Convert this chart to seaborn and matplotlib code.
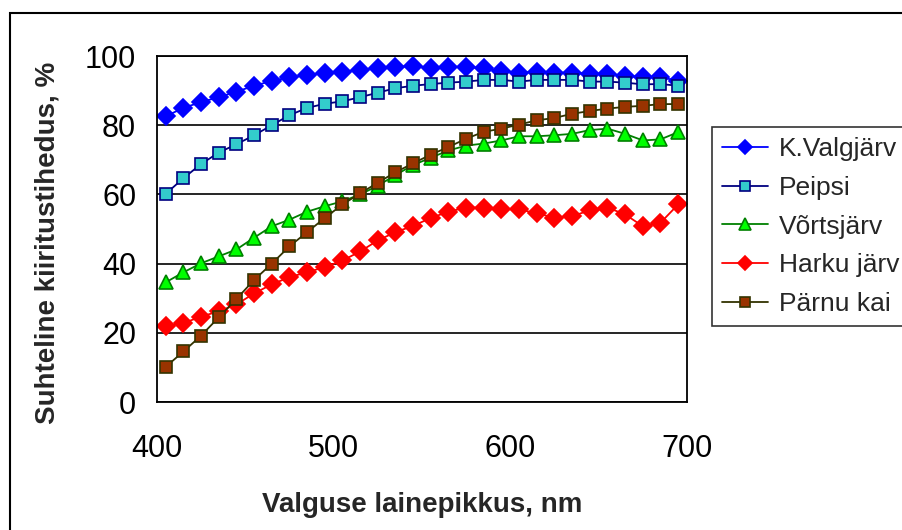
import pandas as pd
import matplotlib
matplotlib.use('Agg')
import matplotlib.pyplot as plt
import seaborn as sns
from matplotlib.patches import Rectangle

wavelength = list(range(405, 700, 10))

k_valgjarv = [82.6, 85.0, 86.7, 88.1, 89.7, 91.4, 92.8, 93.8, 94.5, 95.1,
              95.4, 96.0, 96.5, 96.8, 97.1, 96.6, 96.9, 96.9, 96.4, 95.6,
              95.2, 95.4, 95.2, 95.2, 94.9, 94.9, 94.2, 94.0, 93.8, 92.9]
peipsi = [60.2, 64.7, 68.8, 72.1, 74.5, 77.1, 80.0, 82.9, 85.0, 86.2,
          86.9, 88.1, 89.4, 90.7, 91.4, 91.9, 92.3, 92.6, 93.1, 93.1,
          92.6, 93.1, 93.1, 93.1, 92.6, 92.6, 92.3, 91.8, 91.9, 91.4]
vortsjarv = [34.6, 37.5, 40.1, 42.1, 44.1, 47.5, 50.8, 52.7, 55.0, 56.6,
             58.0, 60.0, 62.5, 65.6, 68.5, 70.6, 72.7, 74.1, 74.7, 75.6,
             76.8, 76.8, 77.1, 77.5, 78.6, 79.0, 77.5, 75.6, 75.9, 78.0]
harku = [21.9, 22.8, 24.7, 26.2, 28.2, 31.4, 34.0, 36.1, 37.5, 39.0,
         40.9, 43.5, 46.7, 49.1, 50.9, 53.2, 55.0, 56.2, 56.2, 55.7,
         55.7, 54.5, 53.3, 53.7, 55.4, 56.2, 54.2, 50.8, 51.8, 57.1]
parnu = [10.2, 14.6, 19.2, 24.5, 29.8, 35.3, 40.0, 45.0, 49.1, 53.2,
         57.1, 60.3, 63.4, 66.4, 69.0, 71.5, 73.7, 76.1, 78.1, 79.0,
         80.2, 81.4, 82.1, 83.3, 84.1, 84.8, 85.3, 85.6, 86.1, 86.1]

series_names = ['K.Valgjärv', 'Peipsi', 'Võrtsjärv', 'Harku järv', 'Pärnu kai']
series_values = [k_valgjarv, peipsi, vortsjarv, harku, parnu]

# line colour, marker, face colour, edge colour, marker size
styles = [
    ('#0000ff', 'D', '#0000ff', '#0000ff', 9),
    ('#000080', 's', '#33cccc', '#000080', 9),
    ('#008000', '^', '#00ff00', '#008000', 10),
    ('#ff0000', 'D', '#ff0000', '#ff0000', 9),
    ('#333300', 's', '#993300', '#333300', 9),
]

sns.set_style('white')
plt.rcParams['font.family'] = ['Liberation Sans', 'DejaVu Sans']

fig = plt.figure(figsize=(9.03, 5.30), dpi=100)
ax = fig.add_axes([157 / 903, 1 - 402 / 530, 530 / 903, 346 / 530])

for name, vals, (lc, mk, fc, ec, ms) in zip(series_names, series_values, styles):
    df = pd.DataFrame({'nm': wavelength, 'val': vals})
    sns.lineplot(data=df, x='nm', y='val', ax=ax, color=lc, linewidth=1.3,
                 marker=mk, markersize=ms, markerfacecolor=fc,
                 markeredgecolor=ec, markeredgewidth=1.2, label=name)

ax.set_xlim(400, 700)
ax.set_ylim(0, 100)
ax.set_xticks([400, 500, 600, 700])
ax.set_yticks([0, 20, 40, 60, 80, 100])
ax.yaxis.grid(True, color='black', linewidth=1.2)
ax.xaxis.grid(False)
ax.set_axisbelow(True)
for sp in ax.spines.values():
    sp.set_visible(True)
    sp.set_color('black')
    sp.set_linewidth(1.3)
ax.tick_params(axis='both', direction='out', length=7, width=1.2,
               color='black', labelsize=22, labelcolor='black', pad=8)
ax.tick_params(axis='x', pad=16)
ax.set_xlabel('Valguse lainepikkus, nm', fontsize=20, fontweight='bold', labelpad=20)
ax.set_ylabel('Suhteline kiiritustihedus, %', fontsize=20, fontweight='bold')
ax.yaxis.set_label_coords(-0.183, 0.46)

leg = ax.legend(loc='upper left', bbox_to_anchor=(712 / 903, 1 - 127 / 530),
                bbox_transform=fig.transFigure, borderaxespad=0, fontsize=19,
                frameon=True, fancybox=False, shadow=False, handlelength=1.75,
                handletextpad=0.4, labelspacing=0.56, borderpad=0.38,
                markerscale=0.8)
leg.get_frame().set_edgecolor('black')
leg.get_frame().set_linewidth(1.2)

fig.patches.append(Rectangle((10 / 903, -0.05), 1.0, 1 - 13 / 530 + 0.05,
                             transform=fig.transFigure, fill=False,
                             edgecolor='black', linewidth=1.5))

fig.savefig('out.png', dpi=100)
